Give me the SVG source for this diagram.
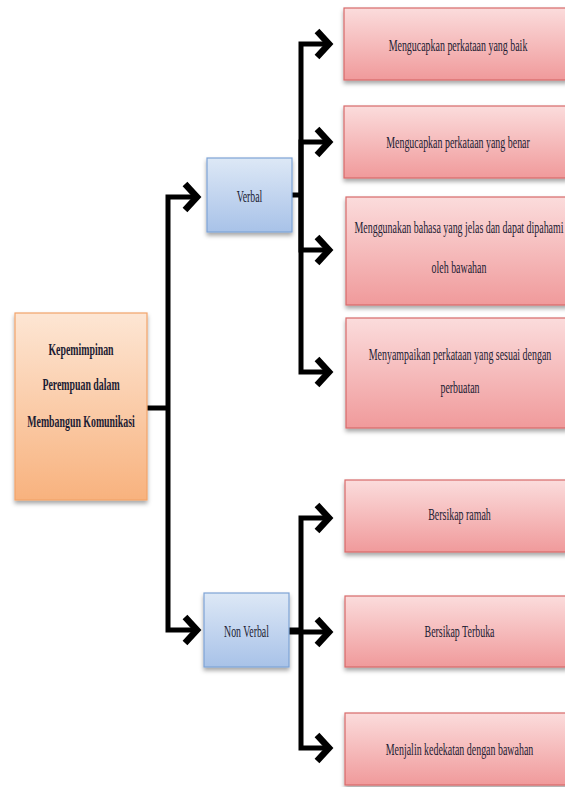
<svg xmlns="http://www.w3.org/2000/svg" width="565" height="787" viewBox="0 0 565 787">
<defs>
<linearGradient id="gOrange" x1="0" y1="0" x2="0" y2="1"><stop offset="0" stop-color="#fde6d4"/><stop offset="1" stop-color="#f8b27e"/></linearGradient>
<linearGradient id="gBlue" x1="0" y1="0" x2="0" y2="1"><stop offset="0" stop-color="#dde8f6"/><stop offset="1" stop-color="#a8c2e8"/></linearGradient>
<linearGradient id="gRed" x1="0" y1="0" x2="0" y2="1"><stop offset="0" stop-color="#fbdcdc"/><stop offset="1" stop-color="#f09a9b"/></linearGradient>
<filter id="shadow" x="-10%" y="-10%" width="120%" height="130%"><feDropShadow dx="0" dy="3" stdDeviation="2" flood-color="#000" flood-opacity="0.35"/></filter>
<marker id="chev" markerUnits="userSpaceOnUse" viewBox="-16 -18 22 36" markerWidth="22" markerHeight="36" refX="0" refY="0" orient="auto">
<path d="M-12,-13 L0,0 L-12,13" fill="none" stroke="#000" stroke-width="6.5"/>
</marker>
</defs>
<style>
.orange{fill:url(#gOrange);stroke:#f2a36a;stroke-width:1.2;filter:url(#shadow)}
.blue{fill:url(#gBlue);stroke:#7ea3d6;stroke-width:1.2;filter:url(#shadow)}
.red{fill:url(#gRed);stroke:#d86a6a;stroke-width:1.2;filter:url(#shadow)}
text{font-family:"Liberation Serif","Times New Roman",serif;font-size:17px;fill:#1c1c33;text-anchor:middle}
.bold{font-weight:bold}
.conn{fill:none;stroke:#000;stroke-width:5}
.arr{marker-end:url(#chev)}
</style>
<rect width="565" height="787" fill="#fff"/>
<g id="connectors">
<path class="conn" d="M147,408 H168"/>
<path class="conn arr" d="M168,408 V197 H197"/>
<path class="conn arr" d="M168,408 V630 H197"/>
<path class="conn" d="M292,195 H301"/>
<path class="conn arr" d="M301,195 V44 H329"/>
<path class="conn arr" d="M301,195 V142 H329"/>
<path class="conn arr" d="M301,195 V250 H329"/>
<path class="conn arr" d="M301,195 V372 H329"/>
<path class="conn" d="M289,630 H301"/>
<path class="conn arr" d="M301,630 V518 H329"/>
<path class="conn arr" d="M289,632 H329"/>
<path class="conn arr" d="M301,630 V748 H329"/>
</g>
<g id="root">
<rect class="orange" x="15" y="313" width="132" height="187"/>
<text class="bold" transform="translate(81,355) scale(0.58,1)">Kepemimpinan</text>
<text class="bold" transform="translate(81,390) scale(0.58,1)">Perempuan dalam</text>
<text class="bold" transform="translate(81,427) scale(0.58,1)">Membangun Komunikasi</text>
</g>
<g id="verbal">
<rect class="blue" x="207" y="158" width="85" height="74"/>
<text transform="translate(249.5,202) scale(0.58,1)">Verbal</text>
</g>
<g id="nonverbal">
<rect class="blue" x="204" y="593" width="85" height="74"/>
<text transform="translate(246.5,637) scale(0.58,1)">Non Verbal</text>
</g>
<g id="v1">
<rect class="red" x="344" y="8" width="224" height="72"/>
<text transform="translate(458,51) scale(0.585,1)">Mengucapkan perkataan yang baik</text>
</g>
<g id="v2">
<rect class="red" x="344" y="106" width="224" height="72"/>
<text transform="translate(458,148) scale(0.585,1)">Mengucapkan perkataan yang benar</text>
</g>
<g id="v3">
<rect class="red" x="346" y="197" width="222" height="108"/>
<text transform="translate(459,233) scale(0.585,1)">Menggunakan bahasa yang jelas dan dapat dipahami</text>
<text transform="translate(459,273) scale(0.585,1)">oleh bawahan</text>
</g>
<g id="v4">
<rect class="red" x="346" y="318" width="222" height="110"/>
<text transform="translate(460,360) scale(0.585,1)">Menyampaikan perkataan yang sesuai dengan</text>
<text transform="translate(460,393) scale(0.585,1)">perbuatan</text>
</g>
<g id="n1">
<rect class="red" x="345" y="480" width="223" height="72"/>
<text transform="translate(459.5,520) scale(0.585,1)">Bersikap ramah</text>
</g>
<g id="n2">
<rect class="red" x="345" y="596" width="223" height="71"/>
<text transform="translate(459.5,637) scale(0.585,1)">Bersikap Terbuka</text>
</g>
<g id="n3">
<rect class="red" x="345" y="713" width="223" height="72"/>
<text transform="translate(459.5,755) scale(0.585,1)">Menjalin kedekatan dengan bawahan</text>
</g>
</svg>
